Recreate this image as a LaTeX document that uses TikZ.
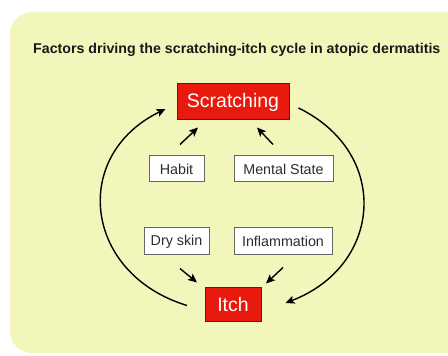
\documentclass[tikz,border=0pt]{standalone}
\usepackage{fontspec}
\setmainfont{Liberation Sans}
\usetikzlibrary{arrows.meta}
\definecolor{bgyellow}{RGB}{243,246,187}
\definecolor{boxred}{RGB}{232,26,14}
\definecolor{redborder}{RGB}{90,30,20}
\definecolor{txtgray}{RGB}{45,45,45}
\tikzset{
  redbox/.style={draw=redborder, line width=1pt, fill=boxred, text=white, inner sep=0pt, font=\fontsize{19.5}{22}\selectfont},
  whitebox/.style={draw=black!60, line width=1pt, fill=white, text=txtgray, inner sep=0pt, font=\fontsize{14.3}{16}\selectfont},
  arr/.style={line width=1.4pt, -{Stealth[length=9pt,width=8pt,inset=2pt]}},
}
\begin{document}
\begin{tikzpicture}[x=1pt,y=1pt]
\useasboundingbox (0,0) rectangle (448,356);
\fill[white] (0,0) rectangle (448,356);
\fill[bgyellow, rounded corners=22pt] (10,3) rectangle (480,344);
\node[anchor=west, inner sep=0pt, font=\bfseries\fontsize{14.2}{16}\selectfont, text=black!90] (title) at (33,306) {Factors driving the scratching-itch cycle in atopic dermatitis};
\node[redbox, minimum width=112pt, minimum height=36pt] (scratch) at (233,254) {Scratching};
\node[redbox, minimum width=56pt, minimum height=34pt] (itch) at (233,51) {Itch};
\node[whitebox, minimum width=55pt, minimum height=26pt] (habit) at (176.5,187) {Habit};
\node[whitebox, minimum width=99pt, minimum height=26pt] (mental) at (283.5,187) {Mental State};
\node[whitebox, minimum width=65pt, minimum height=27pt] (dry) at (176.5,114.5) {Dry skin};
\node[whitebox, minimum width=98pt, minimum height=27pt] (infl) at (283,114.5) {Inflammation};
% small arrows
\draw[arr] ([shift={(3.5pt,11pt)}]habit.north) -- ([shift={(-35pt,-7pt)}]scratch.south);
\draw[arr] ([shift={(-10.5pt,11pt)}]mental.north) -- ([shift={(24pt,-7pt)}]scratch.south);
\draw[arr] ([shift={(3.5pt,-13pt)}]dry.south) -- ([shift={(-36pt,5pt)}]itch.north);
\draw[arr] ([shift={(0pt,-12pt)}]infl.south) -- ([shift={(33pt,4pt)}]itch.north);
% big arcs
\draw[arr] ([shift={(-17.5pt,-0.5pt)}]itch.west) to[out=163,in=206,out distance=108pt,in distance=106pt] ([shift={(-11pt,-7pt)}]scratch.west);
\draw[arr] ([shift={(9pt,-6pt)}]scratch.east) to[out=-26,in=21,out distance=103pt,in distance=104pt] ([shift={(24pt,2pt)}]itch.east);
\end{tikzpicture}
\end{document}
